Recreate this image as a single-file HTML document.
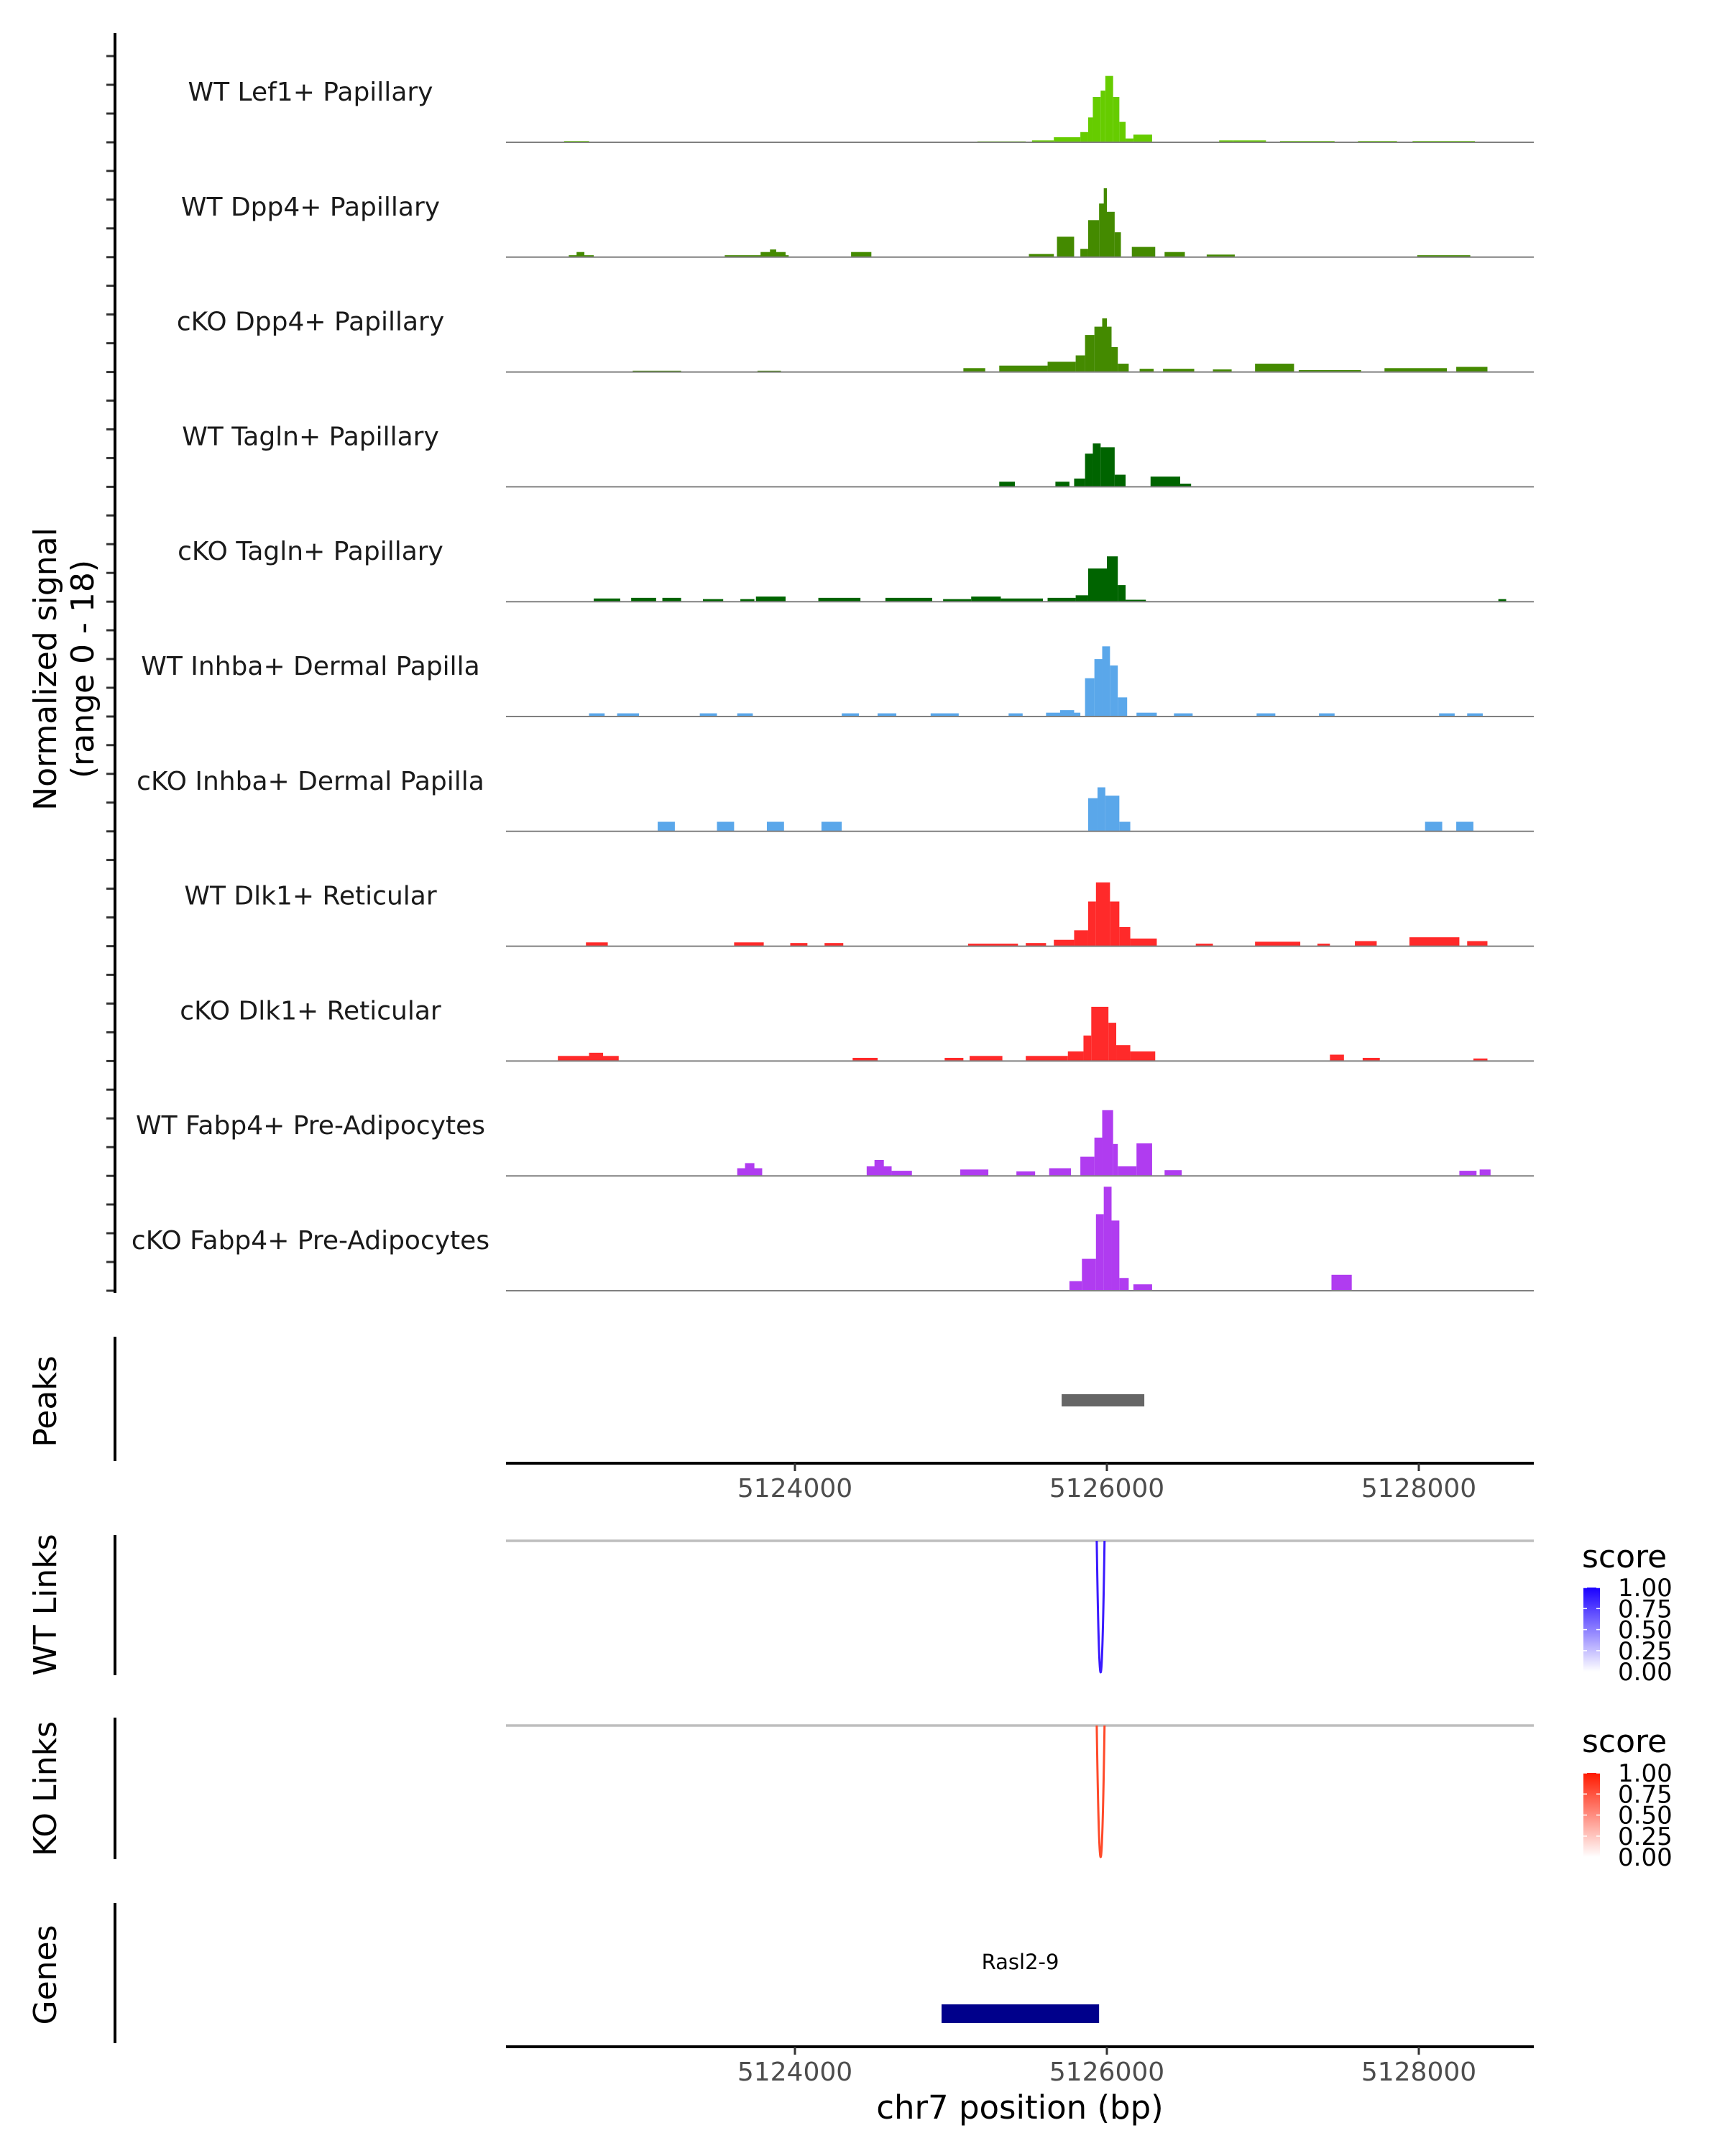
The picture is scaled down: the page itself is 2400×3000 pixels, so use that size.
<!DOCTYPE html>
<html><head><meta charset="utf-8"><style>
html,body{margin:0;padding:0;background:#fff;}
svg{display:block;font-family:"DejaVu Sans","Liberation Sans",sans-serif;}
</style></head><body>
<svg id="chart" width="2400" height="3000" viewBox="0 0 2400 3000" xmlns="http://www.w3.org/2000/svg">
<defs>
<linearGradient id="gBlue" x1="0" y1="1" x2="0" y2="0"><stop offset="0" stop-color="#ffffff"/><stop offset="1" stop-color="#1a00ff"/></linearGradient>
<linearGradient id="gRed" x1="0" y1="1" x2="0" y2="0"><stop offset="0" stop-color="#ffffff"/><stop offset="1" stop-color="#ff1a00"/></linearGradient>
</defs>
<g id="tracks"></g>
<g id="frame"></g>
</svg>
<script>
// ---- data ----
const trackLabels = ["WT Lef1+ Papillary","WT Dpp4+ Papillary","cKO Dpp4+ Papillary","WT Tagln+ Papillary","cKO Tagln+ Papillary","WT Inhba+ Dermal Papilla","cKO Inhba+ Dermal Papilla","WT Dlk1+ Reticular","cKO Dlk1+ Reticular","WT Fabp4+ Pre-Adipocytes","cKO Fabp4+ Pre-Adipocytes"];
const trackColors = ["#66cc00","#448a00","#448a00","#006400","#006400","#5aa7ea","#5aa7ea","#ff2a2a","#ff2a2a","#b03cf0","#b03cf0"];
// segments: [start kb, end kb, signal]
const segLef1 = [[5122.52,5122.68,0.2],[5125.17,5125.48,0.15],[5125.52,5125.66,0.3],[5125.66,5125.83,0.8],[5125.83,5125.88,1.6],[5125.88,5125.91,3.9],[5125.91,5125.96,7.1],[5125.96,5125.99,8.1],[5125.99,5126.04,10.4],[5126.04,5126.08,7.1],[5126.08,5126.12,3.2],[5126.12,5126.17,0.6],[5126.17,5126.29,1.2],[5126.72,5126.81,0.3],[5126.81,5127.02,0.3],[5127.11,5127.46,0.2],[5127.61,5127.86,0.2],[5127.96,5128.36,0.2]];
const segDpp4WT = [[5122.55,5122.71,0.3],[5122.60,5122.65,0.8],[5123.55,5123.96,0.3],[5123.78,5123.94,0.8],[5123.84,5123.88,1.2],[5124.36,5124.49,0.8],[5125.50,5125.66,0.5],[5125.68,5125.79,3.2],[5125.83,5125.88,1.3],[5125.88,5125.95,5.8],[5125.95,5126.00,8.4],[5125.98,5126.00,10.8],[5126.00,5126.05,7.1],[5126.05,5126.09,3.9],[5126.16,5126.31,1.6],[5126.37,5126.50,0.8],[5126.64,5126.82,0.4],[5127.99,5128.33,0.3]];
const segDpp4KO = [[5122.96,5123.27,0.2],[5123.76,5123.91,0.2],[5125.08,5125.22,0.6],[5125.31,5125.62,1.0],[5125.62,5125.80,1.6],[5125.80,5125.86,2.6],[5125.86,5125.92,5.8],[5125.92,5126.03,7.1],[5125.97,5126.00,8.4],[5126.03,5126.07,3.9],[5126.07,5126.14,1.3],[5126.21,5126.30,0.5],[5126.36,5126.56,0.5],[5126.68,5126.80,0.4],[5126.95,5127.20,1.3],[5127.23,5127.63,0.3],[5127.78,5128.18,0.6],[5128.24,5128.44,0.8]];
const segTaglnWT = [[5125.31,5125.41,0.8],[5125.67,5125.76,0.8],[5125.79,5125.86,1.3],[5125.86,5125.91,5.2],[5125.91,5125.96,6.8],[5125.96,5126.05,6.2],[5126.05,5126.12,1.9],[5126.28,5126.47,1.6],[5126.47,5126.54,0.5]];
const segTaglnKO = [[5122.71,5122.88,0.5],[5122.95,5123.11,0.6],[5123.15,5123.27,0.6],[5123.41,5123.54,0.4],[5123.65,5123.74,0.4],[5123.75,5123.94,0.8],[5124.15,5124.42,0.6],[5124.58,5124.88,0.6],[5124.95,5125.13,0.4],[5125.13,5125.32,0.8],[5125.32,5125.59,0.5],[5125.62,5125.80,0.6],[5125.80,5125.88,1.0],[5125.88,5126.00,5.2],[5126.00,5126.07,7.1],[5126.07,5126.12,2.6],[5126.12,5126.25,0.3],[5128.51,5128.56,0.4]];
const segInhbaWT = [[5122.68,5122.78,0.5],[5122.86,5123.00,0.5],[5123.39,5123.50,0.5],[5123.63,5123.73,0.5],[5124.30,5124.41,0.5],[5124.53,5124.65,0.5],[5124.87,5125.05,0.5],[5125.37,5125.46,0.5],[5125.61,5125.83,0.6],[5125.70,5125.79,1.0],[5125.86,5125.92,6],[5125.92,5125.97,9],[5125.97,5126.02,11],[5126.02,5126.07,8],[5126.07,5126.13,3],[5126.19,5126.32,0.6],[5126.43,5126.55,0.5],[5126.96,5127.08,0.5],[5127.36,5127.46,0.5],[5128.13,5128.23,0.5],[5128.31,5128.41,0.5]];
const segInhbaKO = [[5123.12,5123.23,1.5],[5123.50,5123.61,1.5],[5123.82,5123.93,1.5],[5124.17,5124.30,1.5],[5125.88,5125.94,5.2],[5125.94,5125.99,6.9],[5125.99,5126.08,5.6],[5126.08,5126.15,1.5],[5128.04,5128.15,1.5],[5128.24,5128.35,1.5]];
const segDlk1WT = [[5122.66,5122.80,0.6],[5123.61,5123.80,0.6],[5123.97,5124.08,0.5],[5124.19,5124.31,0.5],[5125.11,5125.43,0.4],[5125.48,5125.61,0.5],[5125.66,5125.79,1.0],[5125.79,5125.88,2.5],[5125.88,5125.93,7],[5125.93,5126.02,10],[5126.02,5126.08,7],[5126.08,5126.15,3],[5126.15,5126.32,1.2],[5126.57,5126.68,0.4],[5126.95,5127.24,0.7],[5127.35,5127.43,0.4],[5127.59,5127.73,0.8],[5127.94,5128.26,1.4],[5128.31,5128.44,0.8]];
const segDlk1KO = [[5122.48,5122.87,0.8],[5122.68,5122.77,1.3],[5124.37,5124.53,0.5],[5124.96,5125.08,0.5],[5125.12,5125.33,0.8],[5125.48,5125.75,0.8],[5125.75,5125.85,1.5],[5125.85,5125.90,4],[5125.90,5126.01,8.5],[5126.01,5126.06,6],[5126.06,5126.15,2.5],[5126.15,5126.31,1.5],[5127.43,5127.52,1.0],[5127.64,5127.75,0.5],[5128.35,5128.44,0.4]];
const segFabp4WT = [[5123.63,5123.79,1.2],[5123.68,5123.74,2],[5124.46,5124.62,1.5],[5124.51,5124.57,2.5],[5124.62,5124.75,0.8],[5125.06,5125.24,1.0],[5125.42,5125.54,0.7],[5125.63,5125.77,1.2],[5125.83,5125.92,3],[5125.92,5125.97,6],[5125.97,5126.04,10.3],[5126.04,5126.07,5],[5126.07,5126.19,1.5],[5126.19,5126.29,5.1],[5126.37,5126.48,0.9],[5128.26,5128.37,0.8],[5128.39,5128.46,1.0]];
const segFabp4KO = [[5125.76,5125.84,1.5],[5125.84,5125.93,5],[5125.93,5125.98,12],[5125.98,5126.03,16.3],[5126.03,5126.08,11],[5126.08,5126.14,2],[5126.17,5126.29,1.0],[5127.44,5127.57,2.5]];
const trackSegments = [segLef1,segDpp4WT,segDpp4KO,segTaglnWT,segTaglnKO,segInhbaWT,segInhbaKO,segDlk1WT,segDlk1KO,segFabp4WT,segFabp4KO];
const xTicks = [5124000,5126000,5128000];
const peakStart = [5125.71], peakEnd = [5126.24];
const wtLinkStart = [5125.935], wtLinkEnd = [5125.985], wtLinkScore = [1.0];
const koLinkStart = [5125.935], koLinkEnd = [5125.985], koLinkScore = [1.0];
const geneName = ["Rasl2-9"], geneStart = [5124.94], geneEnd = [5125.95];
const legendTicks = ["1.00","0.75","0.50","0.25","0.00"];

// ---- scales (pixel space) ----
const X0 = 704, X1 = 2134;
function xs(kb){ return 1106 + (kb - 5124) * 217; }
const base0 = 198, pitch = 159.8, yMax = 18;
function ys(i, v){ return base0 + i*pitch - v/yMax*pitch; }
const NS = "http://www.w3.org/2000/svg";
function mk(tag, attrs, parent){ const e = document.createElementNS(NS, tag); for (const k in attrs) e.setAttribute(k, attrs[k]); parent.appendChild(e); return e; }
const T = document.getElementById('tracks');
const F = document.getElementById('frame');

trackSegments.forEach((segs, i) => {
  const g = mk('g', {}, T);
  
  
  const base = ys(i, 0);
  segs.forEach(s => {
    const r = mk('rect', {x: xs(s[0]), y: ys(i, s[2]), width: Math.max(1, xs(s[1]) - xs(s[0])), height: base - ys(i, s[2]), fill: trackColors[i]}, g);
    
    
  });
  const bl = mk('line', {x1: X0, x2: X1, y1: base, y2: base, stroke: '#808080', 'stroke-width': 2}, g);
  
  
  const t = mk('text', {x: 432, y: base - 58, 'text-anchor': 'middle', 'font-size': 36, fill: '#1a1a1a'}, g);
  t.textContent = trackLabels[i];
  
  
  for (let j = 0; j < 4; j++) mk('line', {x1: 148, x2: 160, y1: base - 40*j, y2: base - 40*j, stroke: '#333', 'stroke-width': 3}, F);
});

// left signal axis
mk('line', {x1: 160, x2: 160, y1: 46, y2: 1799, stroke: '#000', 'stroke-width': 4}, F);

// peaks
peakStart.forEach((s, i) => {
  const r = mk('rect', {x: xs(s), y: 1940, width: xs(peakEnd[i]) - xs(s), height: 17, fill: '#666'}, F);
  
  
});
// x axes
function xAxis(y, labelY){
  mk('line', {x1: X0, x2: X1, y1: y, y2: y, stroke: '#000', 'stroke-width': 4}, F);
  xTicks.forEach(t => {
    const x = xs(t/1000);
    mk('line', {x1: x, x2: x, y1: y, y2: y + 11, stroke: '#333', 'stroke-width': 3}, F);
    const tx = mk('text', {x: x, y: labelY, 'text-anchor': 'middle', 'font-size': 36, fill: '#4d4d4d'}, F);
    tx.textContent = String(t);
    
    
  });
}
xAxis(2036, 2083);
xAxis(2848, 2895);

// links
function links(starts, ends, scores, topY, botY, color){
  mk('line', {x1: X0, x2: X1, y1: topY, y2: topY, stroke: '#bebebe', 'stroke-width': 3.5}, F);
  starts.forEach((s, i) => {
    const a = xs(s), b = xs(ends[i]), m = (a + b)/2;
    const p = mk('path', {d: `M${a},${topY} Q${m},${2*botY - topY} ${b},${topY}`, fill: 'none', stroke: color, 'stroke-width': 3, opacity: scores[i]}, F);
    
    
  });
}
links(wtLinkStart, wtLinkEnd, wtLinkScore, 2144, 2327, '#3a1aff');
links(koLinkStart, koLinkEnd, koLinkScore, 2401, 2584, '#ff4a2a');

// genes
geneStart.forEach((s, i) => {
  const r = mk('rect', {x: xs(s), y: 2789, width: xs(geneEnd[i]) - xs(s), height: 26, fill: '#00008b'}, F);
  
  
  const t = mk('text', {x: (xs(s) + xs(geneEnd[i]))/2, y: 2740, 'text-anchor': 'middle', 'font-size': 29, fill: '#000'}, F);
  t.textContent = geneName[i];
  
  
});

// panel axes & titles
function panel(y1, y2, cy, label, name){
  mk('line', {x1: 160, x2: 160, y1: y1, y2: y2, stroke: '#000', 'stroke-width': 4}, F);
  const t = mk('text', {x: 0, y: 0, 'text-anchor': 'middle', 'font-size': 44, fill: '#000', transform: `translate(78 ${cy}) rotate(-90)`}, F);
  t.textContent = label;
  
  
}
panel(1860, 2033, 1950, 'Peaks', 'peaks-axis-title');
panel(2136, 2331, 2233, 'WT Links', 'wt-links-axis-title');
panel(2390, 2587, 2489, 'KO Links', 'ko-links-axis-title');
panel(2648, 2843, 2748, 'Genes', 'genes-axis-title');

// y title
const yt = mk('text', {'text-anchor': 'middle', 'font-size': 44, fill: '#000', transform: 'translate(78,931) rotate(-90)'}, F);


mk('tspan', {x: 0, y: 0}, yt).textContent = 'Normalized signal';
mk('tspan', {x: 0, y: 52}, yt).textContent = '(range 0 - 18)';

const xt = mk('text', {x: 1419, y: 2948, 'text-anchor': 'middle', 'font-size': 45, fill: '#000'}, F);
xt.textContent = 'chr7 position (bp)';



// legends
function legend(titleY, barTop, grad, name){
  const g = mk('g', {}, F);
  
  
  mk('text', {x: 2201, y: titleY, 'font-size': 44, fill: '#000'}, g).textContent = 'score';
  mk('rect', {x: 2203, y: barTop, width: 23, height: 117, fill: grad}, g);
  legendTicks.forEach((l, i) => {
    const y = barTop + i*29.3;
    mk('line', {x1: 2203, x2: 2208, y1: y, y2: y, stroke: '#fff', 'stroke-width': 1.5}, g);
    mk('line', {x1: 2221, x2: 2226, y1: y, y2: y, stroke: '#fff', 'stroke-width': 1.5}, g);
    mk('text', {x: 2251, y: y + 12, 'font-size': 34, fill: '#000'}, g).textContent = l;
  });
}
legend(2181, 2209, 'url(#gBlue)', 'wt-links-legend');
legend(2438, 2467, 'url(#gRed)', 'ko-links-legend');
</script>
</body></html>
